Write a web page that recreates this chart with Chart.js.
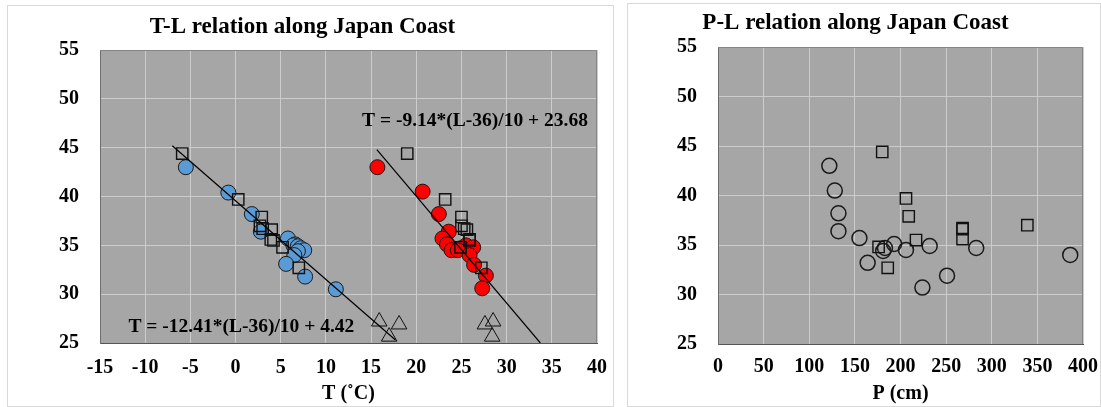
<!DOCTYPE html>
<html>
<head>
<meta charset="utf-8">
<title>T-L / P-L relation along Japan Coast</title>
<script src="https://cdn.jsdelivr.net/npm/chart.js@4.4.1/dist/chart.umd.min.js"></script>
<style>
    html, body { margin: 0; padding: 0; background: #fff; }
    body { width: 1101px; height: 407px; position: relative; overflow: hidden; }
    .panel { position: absolute; border: 1px solid #d9d9d9; background: #fff; }
    #panelTL { left: 7px; top: 5px; width: 605px; height: 400px; }
    #panelPL { left: 627px; top: 3px; width: 472px; height: 402px; }
    canvas { display: block; }
</style>
</head>
<body>
<div class="panel" id="panelTL"><canvas id="tlChart" width="605" height="400"></canvas></div>
<div class="panel" id="panelPL"><canvas id="plChart" width="472" height="402"></canvas></div>

<script>
// ---- Station data ----
// Circle stations: winter (blue) and summer (red) temperature vs latitude
const winterT = [-5.5, -0.8, 1.8, 2.8, 5.8, 6.6, 6.4, 6.9, 7.2, 7.6, 6.9, 6.5, 5.6, 7.7, 11.1];
const winterL = [43.0, 40.4, 38.2, 36.4, 35.7, 35.1, 35.0, 34.9, 34.7, 34.5, 34.4, 34.0, 33.1, 31.8, 30.5];
const summerT = [15.7, 20.7, 22.5, 23.6, 22.9, 23.4, 25.5, 24.9, 26.3, 23.9, 24.6, 25.9, 26.4, 27.7, 27.3];
const summerL = [43.0, 40.5, 38.2, 36.4, 35.7, 35.1, 35.0, 34.7, 34.8, 34.5, 34.5, 34.0, 33.0, 31.9, 30.6];

// Square stations (same latitudes used for T and P)
const squareL = [44.4, 39.7, 37.9, 37.0, 36.7, 36.6, 35.6, 35.5, 34.8, 32.7];
const squareWinterT = [-5.9, 0.3, 2.9, 2.7, 3.0, 4.0, 3.9, 4.2, 5.2, 7.0];
const squareSummerT = [19.0, 23.2, 25.0, 25.0, 25.3, 25.6, 25.9, 25.9, 24.9, 27.2];
const squareP = [180, 206, 209, 339, 268, 268, 268, 217, 176, 186];

// Triangle stations (south)
const triT = [15.9, 18.1, 17.0, 27.6, 28.5, 28.4];
const triL = [27.2, 26.9, 25.65, 26.9, 27.2, 25.65];

// Circle stations: P vs latitude
const circleP = [122, 128, 132, 132, 155, 193, 232, 183, 283, 206, 181, 386, 164, 251, 224];
const circleL = [43.0, 40.5, 38.2, 36.4, 35.7, 35.1, 34.9, 34.7, 34.7, 34.5, 34.4, 34.0, 33.2, 31.9, 30.7];

// Fitted lines T = a*(L-36)/10 + b, drawn between two latitudes
const winterFit = [-12.41, 4.42];
const summerFit = [-9.14, 23.68];
const winterFitL = [45.2, 25.3];
const summerFitL = [44.8, 25.0];

// Tick settings
const tRange = [-15, 40, 5];
const pRange = [0, 400, 50];
const lRange = [25, 55, 5];

const SERIF = "'Liberation Serif', 'Times New Roman', serif";
Chart.defaults.font.family = SERIF;
Chart.defaults.color = '#000';

const CAPTION_FONT = 'bold 20px ' + SERIF;
const EQ_FONT = 'bold 19.5px ' + SERIF;
const TICK_FONT = 'bold 20px ' + SERIF;

function zip(xs, ys) {
    return xs.map((x, i) => ({ x: x, y: ys[i] }));
}

function fitLine(coef, Ls) {
    return Ls.map(L => ({ x: coef[0] * (L - 36) / 10 + coef[1], y: L }));
}

// grey plot background + top/right frame
const plotFrame = {
    id: 'plotFrame',
    beforeDraw(chart) {
        const { ctx, chartArea: a } = chart;
        ctx.save();
        ctx.fillStyle = '#a6a6a6';
        ctx.fillRect(a.left, a.top, a.right - a.left, a.bottom - a.top);
        ctx.restore();
    },
    beforeDatasetsDraw(chart) {
        const { ctx, chartArea: a } = chart;
        ctx.save();
        ctx.strokeStyle = '#858585';
        ctx.lineWidth = 1;
        ctx.beginPath();
        ctx.moveTo(a.left, a.top + 0.5);
        ctx.lineTo(a.right - 0.5, a.top + 0.5);
        ctx.lineTo(a.right - 0.5, a.bottom);
        ctx.stroke();
        ctx.restore();
    }
};

// tick numbers in bold serif, placed from the scales' own ticks
const tickText = {
    id: 'tickText',
    afterDraw(chart, args, opts) {
        const { ctx, chartArea: a, scales } = chart;
        ctx.save();
        ctx.fillStyle = '#000';
        ctx.font = TICK_FONT;
        ctx.textBaseline = 'middle';
        ctx.textAlign = 'center';
        scales.x.ticks.forEach(t => {
            ctx.fillText(String(t.value), scales.x.getPixelForValue(t.value), a.bottom + opts.xGap);
        });
        ctx.textAlign = 'right';
        scales.y.ticks.forEach(t => {
            ctx.fillText(String(t.value), a.left - opts.yGap, scales.y.getPixelForValue(t.value));
        });
        ctx.restore();
    }
};

// horizontal y-axis caption and equation labels
const sideText = {
    id: 'sideText',
    afterDraw(chart, args, opts) {
        const { ctx } = chart;
        ctx.save();
        ctx.fillStyle = '#000';
        ctx.textAlign = 'center';
        ctx.textBaseline = 'middle';
        (opts.items || []).forEach(it => {
            ctx.font = it.font;
            let x = it.x, y = it.y;
            if (it.at) {
                x = chart.scales.x.getPixelForValue(it.at[0]);
                y = chart.scales.y.getPixelForValue(it.at[1]);
            }
            ctx.fillText(it.text, x, y);
        });
        ctx.restore();
    }
};

function makeScales(xr, xTitle, yWidth, xHeight) {
    return {
        x: {
            type: 'linear',
            min: xr[0], max: xr[1],
            ticks: { stepSize: xr[2], display: false },
            grid: { color: '#cccccc', drawTicks: false },
            border: { color: '#555555' },
            title: { display: true, text: xTitle, color: '#000',
                     font: { family: SERIF, size: 20, weight: 'bold' }, padding: { top: 0, bottom: 0 } },
            afterFit(s) { s.height = xHeight; }
        },
        y: {
            type: 'linear',
            min: lRange[0], max: lRange[1],
            ticks: { stepSize: lRange[2], display: false },
            grid: { color: '#cccccc', drawTicks: false },
            border: { color: '#6e6e6e' },
            afterFit(s) { s.width = yWidth; }
        }
    };
}

function titleOptions(text, top, bottom) {
    return {
        display: true,
        text: text,
        color: '#000',
        font: { family: SERIF, size: 23, weight: 'bold' },
        padding: { top: top, bottom: bottom }
    };
}

const circleStyle = { pointStyle: 'circle', pointRadius: 7.5, borderColor: '#1a1a1a', borderWidth: 1 };
const squareStyle = { pointStyle: 'rect', pointRadius: 8, backgroundColor: 'rgba(0,0,0,0)',
                      borderColor: '#111111', borderWidth: 1.4 };

// ---- T-L chart ----
new Chart(document.getElementById('tlChart'), {
    type: 'scatter',
    data: {
        datasets: [
            { label: 'Winter fit', data: fitLine(winterFit, winterFitL), showLine: true,
              pointRadius: 0, borderColor: '#000', borderWidth: 1.2, order: 0 },
            { label: 'Summer fit', data: fitLine(summerFit, summerFitL), showLine: true,
              pointRadius: 0, borderColor: '#000', borderWidth: 1.2, order: 0 },
            { label: 'South', data: zip(triT, triL), pointStyle: 'triangle', pointRadius: 9,
              backgroundColor: 'rgba(0,0,0,0)', borderColor: '#111111', borderWidth: 1, order: 1 },
            Object.assign({ label: 'Winter (squares)', data: zip(squareWinterT, squareL), order: 2 }, squareStyle),
            Object.assign({ label: 'Summer (squares)', data: zip(squareSummerT, squareL), order: 2 }, squareStyle),
            Object.assign({ label: 'Winter', data: zip(winterT, winterL), backgroundColor: '#5b9bd5', order: 3 }, circleStyle),
            Object.assign({ label: 'Summer', data: zip(summerT, summerL), backgroundColor: '#ff0000', order: 3 }, circleStyle)
        ]
    },
    options: {
        responsive: false,
        animation: false,
        events: [],
        layout: { padding: { left: 0, right: 16, top: 0, bottom: 0 } },
        scales: makeScales(tRange, 'T (\u02DAC)', 92, 63),
        plugins: {
            legend: { display: false },
            tooltip: { enabled: false },
            title: titleOptions('T-L relation along Japan Coast', 7, 9.4),
            tickText: { xGap: 25, yGap: 21 },
            sideText: {
                items: [
                    { text: 'L', x: 28, y: 182, font: CAPTION_FONT },
                    { text: '(deg)', x: 28, y: 204, font: CAPTION_FONT },
                    { text: 'T = -9.14*(L-36)/10 + 23.68', at: [26.5, 47.7], font: EQ_FONT },
                    { text: 'T = -12.41*(L-36)/10 + 4.42', at: [0.65, 26.65], font: EQ_FONT }
                ]
            }
        }
    },
    plugins: [plotFrame, tickText, sideText]
});

// ---- P-L chart ----
new Chart(document.getElementById('plChart'), {
    type: 'scatter',
    data: {
        datasets: [
            Object.assign({ label: 'Squares', data: zip(squareP, squareL), order: 1 }, squareStyle),
            Object.assign({ label: 'Circles', data: zip(circleP, circleL), order: 2 }, circleStyle,
                          { backgroundColor: 'rgba(0,0,0,0)', borderWidth: 1.5 })
        ]
    },
    options: {
        responsive: false,
        animation: false,
        events: [],
        layout: { padding: { left: 0, right: 17, top: 0, bottom: 0 } },
        scales: makeScales(pRange, 'P (cm)', 90, 62),
        plugins: {
            legend: { display: false },
            tooltip: { enabled: false },
            title: titleOptions('P-L relation along Japan Coast', 5, 10.4),
            tickText: { xGap: 23, yGap: 21 },
            sideText: {
                items: [
                    { text: 'L', x: 25, y: 183, font: CAPTION_FONT },
                    { text: '(deg)', x: 25, y: 204, font: CAPTION_FONT }
                ]
            }
        }
    },
    plugins: [plotFrame, tickText, sideText]
});
</script>
</body>
</html>
